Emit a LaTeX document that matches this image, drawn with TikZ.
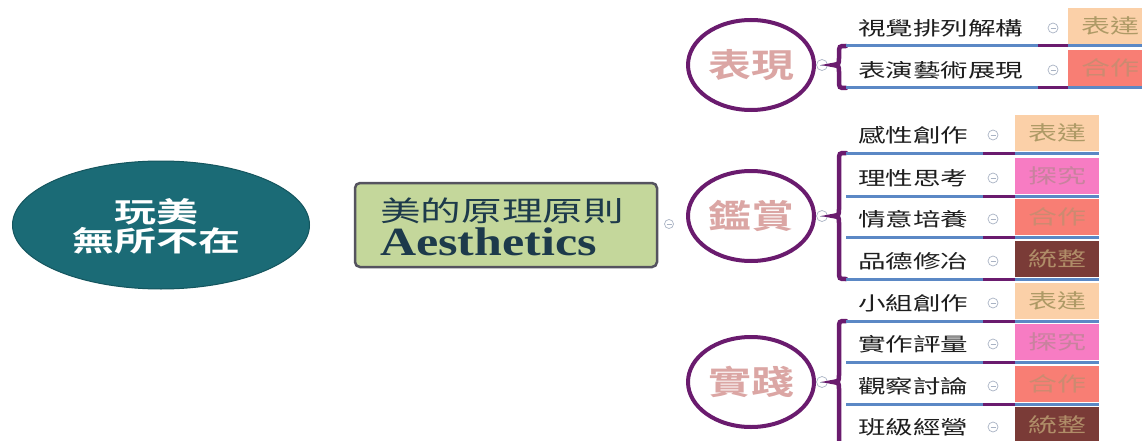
\documentclass[tikz,border=0pt]{standalone}
\usepackage{fontspec}
\usetikzlibrary{shapes.geometric,backgrounds}
\newfontfamily\cjk[FakeStretch=1.45]{Noto Sans CJK TC}
\newfontfamily\rootf[FakeStretch=1.5]{Noto Sans CJK TC Bold}
\newfontfamily\catf[FakeStretch=1.3]{Noto Sans CJK TC Bold}
\newfontfamily\latf[FakeStretch=1.25]{Liberation Serif}
\definecolor{teal1}{HTML}{1B6B76}
\definecolor{teal2}{HTML}{14555E}
\definecolor{rectfill}{HTML}{C4D79B}
\definecolor{rectdraw}{HTML}{55535F}
\definecolor{navy}{HTML}{1D3A4B}
\definecolor{purp}{HTML}{6A1B6E}
\definecolor{vcol}{HTML}{8C5C8C}
\definecolor{pinktxt}{HTML}{DBA6A4}
\definecolor{ublue}{HTML}{5B88C5}
\definecolor{colgray}{HTML}{A9B3C4}
\definecolor{leaftxt}{HTML}{1E1E1E}
\definecolor{rootline}{HTML}{8AA5A5}
\definecolor{tA}{HTML}{FBD0A8}\definecolor{tAt}{HTML}{AE9A66}
\definecolor{tB}{HTML}{F77CC3}\definecolor{tBt}{HTML}{C8829E}
\definecolor{tC}{HTML}{F87E74}\definecolor{tCt}{HTML}{CC8A70}
\definecolor{tD}{HTML}{7A3B37}\definecolor{tDt}{HTML}{B08D68}
\tikzset{
  rootnode/.style={ellipse, fill=teal1, draw=teal2, line width=1pt, minimum width=297pt, minimum height=128pt, inner sep=0pt},
  roottext/.style={inner sep=0pt, text=white, align=center, font=\rootf\fontsize{28}{29}\selectfont},
  mainbox/.style={rectangle, rounded corners=5pt, fill=rectfill, draw=rectdraw, line width=2.5pt, minimum width=302pt, minimum height=84pt, inner sep=0pt},
  maincjk/.style={anchor=west, inner sep=0pt, text=navy, font=\cjk\fontsize{28}{28}\selectfont},
  mainlat/.style={anchor=base west, inner sep=0pt, text=navy, font=\latf\bfseries\fontsize{40}{40}\selectfont},
  catnode/.style={ellipse, draw=purp, line width=4pt, fill=white, minimum width=126pt, minimum height=90pt, inner sep=0pt, text=pinktxt, font=\catf\fontsize{33}{33}\selectfont},
  leaf/.style={anchor=west, inner sep=0pt, text=leaftxt, font=\cjk\fontsize{19}{19}\selectfont},
  tagbox/.style={rectangle, minimum width=84pt, minimum height=36pt, inner sep=0pt, anchor=south west, font=\cjk\fontsize{20}{20}\selectfont},
  colnode/.style={circle, draw=colgray, line width=0.7pt, fill=white, minimum size=10pt, inner sep=0pt,
    path picture={\draw[colgray, line width=0.7pt] ([xshift=-2.5pt]path picture bounding box.center) -- ([xshift=2.5pt]path picture bounding box.center);}},
  uline/.style={ublue, line width=3pt},
  pline/.style={purp, line width=3pt},
  vline/.style={vcol, line width=1.5pt},
  bracepath/.style={purp, line width=4.5pt, line cap=round},
}
\begin{document}
\begin{tikzpicture}[x=1pt,y=-1pt]
\useasboundingbox[fill=white] (0,0) rectangle (1142,441);

% root and main
\node[rootnode] (root) at (161,225) {};
\node[roottext] (roottxt) at (156,226) {玩美\\無所不在};
\node[mainbox] (main) at (506,225) {};
\node[maincjk] (maintxt1) at (380,211) {美的原理原則};
\node[mainlat] (maintxt2) at (380,255) {Aesthetics};
\node[colnode, minimum size=9pt] (cm) at (669,224) {};
\coordinate (vtop) at (675,65);
\coordinate (vmid) at (675,224);
\coordinate (vbot) at (675,382);

% categories
\node[catnode] (cat1) at (751,65) {表現};
\node[catnode] (cat2) at (751,216) {鑑賞};
\node[catnode] (cat3) at (751,382) {實踐};
\node[colnode, minimum size=11pt] (cc1) at (822,65) {};
\node[colnode, minimum size=11pt] (cc2) at (822,216) {};
\node[colnode, minimum size=11pt] (cc3) at (822,382) {};
\coordinate (bt1) at (833,65);
\coordinate (bt2) at (833,216);
\coordinate (bt3) at (833,382);

\begin{scope}[on background layer]
\draw[rootline, line width=1.2pt] (root.east) -- (main.west);
\draw[vline] (main.east) -- (cm);
\draw[vline] (cm) -- (vmid);
\draw[vline] (vtop) -- (vbot);
\draw[vline] (vtop) -- (cat1.west);
\draw[vline] (675,216) -- (cat2.west);
\draw[vline] (vbot) -- (cat3.west);
\draw[pline] (cc1) -- (bt1);
\draw[pline] (cc2) -- (bt2);
\draw[pline] (cc3) -- (bt3);
\end{scope}

% braces
\foreach \T/\M/\B in {46/65/88, 153/216/279, 321/382/445}{
  \draw[bracepath] (846,\T) .. controls (839,\T) .. (839,\T+8) -- (839,\M-7) .. controls (839,\M-1) .. (833,\M) .. controls (839,\M+1) .. (839,\M+7) -- (839,\B-8) .. controls (839,\B) .. (846,\B);
}

% leaves of 表現 (wider)
\foreach \i/\u/\txt/\tg/\fc/\tc in {1/46/視覺排列解構/表達/tA/tAt, 2/88/表演藝術展現/合作/tC/tCt}{
  \coordinate (ul\i) at (846,\u);
  \coordinate (ur\i) at (1150,\u);
  \draw[uline] (ul\i) -- (ur\i);
  \node[leaf] (leaf\i) at (858,\u-18) {\txt};
  \node[colnode] (lc\i) at (1053,\u-18) {};
  \node[tagbox, fill=\fc, text=\tc] (tag\i) at (1068,\u-1.5) {\tg};
  \coordinate (pl\i) at (1038,\u);
  \draw[pline] (pl\i) -- (tag\i.south west |- pl\i);
}

% other leaves
\foreach \i/\u/\txt/\tg/\fc/\tc in {3/153/感性創作/表達/tA/tAt, 4/196/理性思考/探究/tB/tBt, 5/237/情意培養/合作/tC/tCt, 6/279/品德修冶/統整/tD/tDt,
  7/321/小組創作/表達/tA/tAt, 8/362/實作評量/探究/tB/tBt, 9/404/觀察討論/合作/tC/tCt, 10/445/班級經營/統整/tD/tDt}{
  \coordinate (ul\i) at (846,\u);
  \coordinate (ur\i) at (1099,\u);
  \draw[uline] (ul\i) -- (ur\i);
  \node[leaf] (leaf\i) at (858,\u-18) {\txt};
  \node[colnode] (lc\i) at (993,\u-18) {};
  \node[tagbox, fill=\fc, text=\tc] (tag\i) at (1015,\u-1.5) {\tg};
  \coordinate (pl\i) at (983,\u);
  \draw[pline] (pl\i) -- (tag\i.south west |- pl\i);
}
\end{tikzpicture}
\end{document}
